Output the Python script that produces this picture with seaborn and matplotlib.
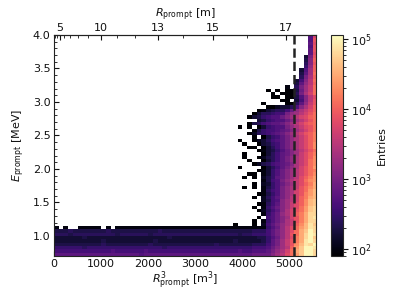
import numpy as np
import pandas as pd
import matplotlib
matplotlib.use('Agg')
import matplotlib.pyplot as plt
from matplotlib.colors import LogNorm
import seaborn as sns

# Celdas, de arriba (E alta) hacia abajo.
# Cada caracter es un nivel en base 32, '.' = celda vacia. La fila termina en la ultima columna.
filas_altas = [
    "8i", "8k", "9j", "8k", "9k", "9j", "3bk", "4cl", "5ck", "6dl",
    "38el", "49em", "5bfl", "37cgm", "49dgl", "1.5behm", "0.0.004aehm",
    "0.0005bfim", "00.0048cgj", "00.37cgk", "0....0059dhk", "0023358cfil",
    "0134557adfhjl", "0355677bdegikm", "0346788acegijlm", "346788acegikm",
    "0457899acegiklm", "0.0.036788bdfhjkm", "0467789acegikm",
    "0256789acegikln", "0.04679bdfhjln", "0..0235789bdfhjln",
    "0..034679bdfhjlo", "00.03579bdfhjlo", "013468acegikm",
    "0...03579acehjln", "0..024579bdfhjlo", "0..03579bdfhjmo",
    "0245789acfhjmo", "0....03579bdfikmp",
    ".01368acegikmn", "00.1368acegikmo", "0.0.2469acegjlnp", "..1478bdfhjmop",
    "0.2368acehjlnq", "0.0.1468bdfhkmoq", "..1578bdfikmpr",
    ".01468bdfiknpr", "0.2579bdgilnqr", "..2478cegilors",
    ".01579cehjlors", "0.168acehjmpst", ".02579cfikmpst",
    "..168adfilnqtt", ".0.78aceiknqtu", "0.168acfhknqtt", "0...0.279bdfhlorus",
]
filas_banda = [
    "1.1..11111.1." "11111111111111111111" "111111111111" "68adgjmprut",
    "444544444445444" "444444454444444" "444444444444555" "79bdgjmqsvt",
    "555455555555545" "555554555555555" "555555555455666" "79bdgkmqtvu",
    "333333433333333" "333333333433333" "333333333333344" "68adgjnqtvs",
    "333333333343333" "333333433333333" "333333334333334" "69behknquvt",
    "444444444454444" "444445444444444" "444454444444555" "79behkorutv",
    "666666566666666" "666666665666666" "666666666666777" "8aceglpsvvu",
    "777777777777877" "777787777777777" "777777777877888" "9bdfimqsvvt",
    "999999999999999" "999899999999999" "999999999999aaa" "acegjmpsvvt",
]

ticks_r_mayores = [5, 10, 13, 15, 17]
ticks_r_menores = [1, 2, 3, 4, 6, 7, 8, 9, 11, 12, 14, 16]
ticks_r3 = [0, 1000, 2000, 3000, 4000, 5000]
ticks_e = [1.0, 1.5, 2.0, 2.5, 3.0, 3.5, 4.0]
r3_corte = 5100

N_COLUMNAS = 56
ANCHO_R3 = 100
ALTO_E = 0.05


def cargar_tabla():
    """Pasa las filas de texto a una tabla larga con r3, energia y entradas."""
    registros = []
    for k, fila in enumerate(filas_altas + filas_banda):
        fila = fila.rjust(N_COLUMNAS, '.')
        for c, nivel in enumerate(fila):
            if nivel == '.':
                continue
            registros.append({
                'r3': (c + 0.5) * ANCHO_R3,
                'e': 4.0 - (k + 0.5) * ALTO_E,
                'entradas': 10 ** (1.9 + int(nivel, 32) * 0.1),
            })
    return pd.DataFrame(registros)


sns.set_style('ticks')
plt.rcParams['text.color'] = '#111111'
plt.rcParams['axes.labelcolor'] = '#111111'
plt.rcParams['xtick.color'] = '#111111'
plt.rcParams['ytick.color'] = '#111111'

df = cargar_tabla()
n_filas = len(filas_altas) + len(filas_banda)
bordes_r3 = np.arange(N_COLUMNAS + 1) * ANCHO_R3
bordes_e = 4.0 - np.arange(n_filas + 1)[::-1] * ALTO_E

fig = plt.figure(figsize=(3.99, 2.99), dpi=100)
ax = fig.add_axes([54 / 399, 43 / 299, 262 / 399, 221 / 299])
cax = fig.add_axes([331 / 399, 43 / 299, 12 / 399, 221 / 299])

sns.histplot(df, x='r3', y='e', weights='entradas', bins=[bordes_r3, bordes_e],
             cmap='magma', ax=ax)
malla = ax.collections[-1]
malla.set_norm(LogNorm(vmin=80, vmax=1.15e5))

ax.axvline(r3_corte, color='#222222', ls='--', lw=1.8)

ax.set_xlim(0, 5560)
ax.set_ylim(0.7, 4.0)
ax.set_xticks(ticks_r3)
ax.set_yticks(ticks_e)
ax.set_yticks(np.arange(0.7, 4.01, 0.1), minor=True)
ax.tick_params(which='major', direction='in', length=3.5, width=0.8, right=True, labelsize=8, pad=2.5)
ax.tick_params(which='minor', direction='in', length=2, width=0.6, right=True)
ax.set_xlabel(r'$R^3_\mathrm{prompt}$ [m$^3$]', fontsize=8, labelpad=0)
ax.set_ylabel(r'$E_\mathrm{prompt}$ [MeV]', fontsize=8, labelpad=4)
for lado in ax.spines.values():
    lado.set_visible(True)
    lado.set_linewidth(0.8)
    lado.set_color('#222222')

sec = ax.secondary_xaxis('top', functions=(np.cbrt, lambda r: np.asarray(r) ** 3))
sec.set_xticks(ticks_r_mayores)
sec.set_xticks(ticks_r_menores, minor=True)
sec.tick_params(which='major', direction='in', length=3.5, width=0.8, labelsize=8, pad=1.5)
sec.tick_params(which='minor', direction='in', length=2, width=0.6)
sec.set_xlabel(r'$R_\mathrm{prompt}$ [m]', fontsize=8, labelpad=4)

cb = fig.colorbar(malla, cax=cax)
cb.set_label('Entries', fontsize=8, labelpad=4)
cb.ax.tick_params(which='major', labelsize=8, length=3.5, width=0.8, pad=2)
cb.ax.tick_params(which='minor', length=2, width=0.6)

fig.savefig('out.png', dpi=100)
